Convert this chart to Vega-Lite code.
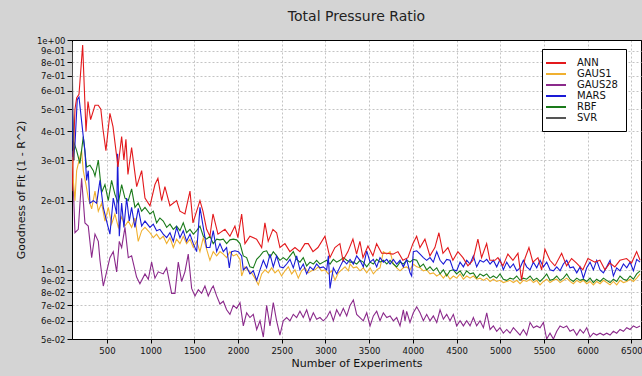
{
"$schema": "https://vega.github.io/schema/vega-lite/v6.json",
"width": 569, "height": 299,
"autosize": {"type": "none"},
"padding": {"left": 72, "top": 40, "right": 1, "bottom": 37},
"background": "#d4d4d4",
"title": {"text": "Total Pressure Ratio", "fontSize": 14, "font": "DejaVu Sans", "fontWeight": "normal", "color": "#222222", "offset": 12, "anchor": "middle"},
"config": {
 "view": {"fill": "white", "stroke": "black", "strokeWidth": 1},
 "axis": {"domainColor": "black", "tickColor": "black", "labelFont": "DejaVu Sans", "labelFontSize": 8.5, "labelColor": "#111111", "titleFont": "DejaVu Sans", "titleFontSize": 11, "titleFontWeight": "normal", "titleColor": "#111111", "gridColor": "#c4c4c4", "gridDash": [2, 2], "gridWidth": 1, "tickSize": 5, "labelFlush": false, "labelOverlap": false},
 "legend": {"fillColor": "white", "strokeColor": "black", "strokeWidth": 1, "padding": 8, "cornerRadius": 0, "symbolType": "M-2,0H2", "symbolSize": 100, "symbolStrokeWidth": 2, "labelFont": "DejaVu Sans", "labelFontSize": 10, "labelColor": "#111111", "rowPadding": 0, "labelOffset": 15}
},
"datasets": {
"ANN": [{"n":100,"v":0.22},{"n":134,"v":0.5},{"n":153,"v":0.56},{"n":180,"v":0.58},{"n":222,"v":0.95},{"n":260,"v":0.40},{"n":283,"v":0.54},{"n":313,"v":0.45},{"n":363,"v":0.52},{"n":400,"v":0.52},{"n":430,"v":0.5},{"n":454,"v":0.41},{"n":488,"v":0.33},{"n":534,"v":0.48},{"n":569,"v":0.42},{"n":626,"v":0.28},{"n":668,"v":0.38},{"n":694,"v":0.30},{"n":717,"v":0.37},{"n":740,"v":0.26},{"n":782,"v":0.34},{"n":840,"v":0.23},{"n":897,"v":0.27},{"n":935,"v":0.205},{"n":992,"v":0.19},{"n":1049,"v":0.235},{"n":1083,"v":0.25},{"n":1126,"v":0.2},{"n":1163,"v":0.23},{"n":1220,"v":0.19},{"n":1297,"v":0.2},{"n":1335,"v":0.18},{"n":1392,"v":0.175},{"n":1450,"v":0.22},{"n":1484,"v":0.16},{"n":1564,"v":0.2},{"n":1598,"v":0.18},{"n":1640,"v":0.15},{"n":1678,"v":0.14},{"n":1713,"v":0.175},{"n":1770,"v":0.143},{"n":1850,"v":0.15},{"n":1907,"v":0.14},{"n":1964,"v":0.155},{"n":1998,"v":0.138},{"n":2041,"v":0.175},{"n":2079,"v":0.13},{"n":2136,"v":0.14},{"n":2212,"v":0.136},{"n":2270,"v":0.125},{"n":2307,"v":0.16},{"n":2345,"v":0.133},{"n":2399,"v":0.15},{"n":2441,"v":0.145},{"n":2479,"v":0.125},{"n":2536,"v":0.13},{"n":2593,"v":0.12},{"n":2651,"v":0.125},{"n":2708,"v":0.12},{"n":2765,"v":0.13},{"n":2803,"v":0.13},{"n":2857,"v":0.12},{"n":2914,"v":0.125},{"n":2994,"v":0.14},{"n":3051,"v":0.113},{"n":3108,"v":0.125},{"n":3165,"v":0.13},{"n":3200,"v":0.11},{"n":3257,"v":0.12},{"n":3314,"v":0.136},{"n":3356,"v":0.117},{"n":3394,"v":0.133},{"n":3429,"v":0.113},{"n":3486,"v":0.127},{"n":3543,"v":0.115},{"n":3585,"v":0.13},{"n":3643,"v":0.118},{"n":3700,"v":0.118},{"n":3772,"v":0.117},{"n":3829,"v":0.12},{"n":3886,"v":0.11},{"n":3943,"v":0.113},{"n":4000,"v":0.13},{"n":4043,"v":0.14},{"n":4081,"v":0.125},{"n":4138,"v":0.136},{"n":4195,"v":0.115},{"n":4252,"v":0.125},{"n":4298,"v":0.145},{"n":4344,"v":0.118},{"n":4401,"v":0.125},{"n":4458,"v":0.11},{"n":4515,"v":0.12},{"n":4573,"v":0.113},{"n":4630,"v":0.104},{"n":4687,"v":0.11},{"n":4744,"v":0.136},{"n":4786,"v":0.113},{"n":4844,"v":0.13},{"n":4881,"v":0.11},{"n":4939,"v":0.11},{"n":4973,"v":0.113},{"n":5030,"v":0.104},{"n":5087,"v":0.117},{"n":5145,"v":0.11},{"n":5202,"v":0.118},{"n":5244,"v":0.09},{"n":5282,"v":0.112},{"n":5328,"v":0.125},{"n":5373,"v":0.108},{"n":5431,"v":0.113},{"n":5473,"v":0.1},{"n":5511,"v":0.123},{"n":5568,"v":0.11},{"n":5625,"v":0.104},{"n":5702,"v":0.118},{"n":5759,"v":0.104},{"n":5816,"v":0.112},{"n":5873,"v":0.107},{"n":5945,"v":0.1},{"n":6003,"v":0.112},{"n":6083,"v":0.108},{"n":6140,"v":0.11},{"n":6197,"v":0.1},{"n":6254,"v":0.107},{"n":6311,"v":0.103},{"n":6369,"v":0.11},{"n":6445,"v":0.112},{"n":6502,"v":0.107},{"n":6560,"v":0.12},{"n":6600,"v":0.11}],
"GAUS1": [{"n":100,"v":0.31},{"n":115,"v":0.245},{"n":134,"v":0.2},{"n":153,"v":0.27},{"n":182,"v":0.3},{"n":210,"v":0.33},{"n":229,"v":0.27},{"n":260,"v":0.235},{"n":286,"v":0.205},{"n":325,"v":0.184},{"n":363,"v":0.22},{"n":401,"v":0.18},{"n":439,"v":0.195},{"n":477,"v":0.163},{"n":515,"v":0.187},{"n":553,"v":0.158},{"n":591,"v":0.175},{"n":630,"v":0.153},{"n":668,"v":0.17},{"n":706,"v":0.155},{"n":744,"v":0.163},{"n":782,"v":0.153},{"n":820,"v":0.168},{"n":858,"v":0.133},{"n":897,"v":0.148},{"n":935,"v":0.153},{"n":992,"v":0.145},{"n":1030,"v":0.138},{"n":1068,"v":0.143},{"n":1106,"v":0.136},{"n":1144,"v":0.14},{"n":1183,"v":0.13},{"n":1221,"v":0.138},{"n":1259,"v":0.125},{"n":1297,"v":0.136},{"n":1335,"v":0.13},{"n":1373,"v":0.14},{"n":1411,"v":0.13},{"n":1450,"v":0.136},{"n":1488,"v":0.125},{"n":1526,"v":0.133},{"n":1564,"v":0.12},{"n":1602,"v":0.138},{"n":1640,"v":0.123},{"n":1678,"v":0.11},{"n":1716,"v":0.12},{"n":1755,"v":0.115},{"n":1793,"v":0.12},{"n":1831,"v":0.117},{"n":1869,"v":0.113},{"n":1907,"v":0.12},{"n":1945,"v":0.115},{"n":1984,"v":0.117},{"n":2022,"v":0.111},{"n":2041,"v":0.094},{"n":2079,"v":0.103},{"n":2117,"v":0.099},{"n":2155,"v":0.097},{"n":2193,"v":0.092},{"n":2232,"v":0.086},{"n":2270,"v":0.096},{"n":2308,"v":0.1},{"n":2346,"v":0.097},{"n":2384,"v":0.102},{"n":2422,"v":0.097},{"n":2460,"v":0.1},{"n":2498,"v":0.094},{"n":2537,"v":0.099},{"n":2575,"v":0.103},{"n":2613,"v":0.096},{"n":2651,"v":0.1},{"n":2689,"v":0.092},{"n":2727,"v":0.099},{"n":2766,"v":0.102},{"n":2804,"v":0.097},{"n":2842,"v":0.099},{"n":2880,"v":0.1},{"n":2918,"v":0.103},{"n":2956,"v":0.099},{"n":2995,"v":0.1},{"n":3033,"v":0.096},{"n":3071,"v":0.099},{"n":3109,"v":0.09},{"n":3147,"v":0.097},{"n":3185,"v":0.1},{"n":3224,"v":0.103},{"n":3262,"v":0.099},{"n":3281,"v":0.106},{"n":3319,"v":0.102},{"n":3357,"v":0.103},{"n":3395,"v":0.099},{"n":3433,"v":0.102},{"n":3472,"v":0.097},{"n":3510,"v":0.102},{"n":3548,"v":0.096},{"n":3586,"v":0.1},{"n":3624,"v":0.102},{"n":3662,"v":0.12},{"n":3701,"v":0.117},{"n":3739,"v":0.12},{"n":3777,"v":0.106},{"n":3815,"v":0.102},{"n":3853,"v":0.099},{"n":3891,"v":0.102},{"n":3929,"v":0.103},{"n":3967,"v":0.1},{"n":4005,"v":0.106},{"n":4044,"v":0.103},{"n":4082,"v":0.102},{"n":4120,"v":0.099},{"n":4158,"v":0.1},{"n":4196,"v":0.096},{"n":4234,"v":0.097},{"n":4273,"v":0.094},{"n":4311,"v":0.096},{"n":4349,"v":0.092},{"n":4387,"v":0.096},{"n":4425,"v":0.091},{"n":4463,"v":0.094},{"n":4501,"v":0.092},{"n":4540,"v":0.096},{"n":4578,"v":0.091},{"n":4616,"v":0.094},{"n":4654,"v":0.092},{"n":4692,"v":0.094},{"n":4730,"v":0.091},{"n":4768,"v":0.092},{"n":4807,"v":0.09},{"n":4845,"v":0.092},{"n":4883,"v":0.089},{"n":4921,"v":0.091},{"n":4959,"v":0.089},{"n":4997,"v":0.09},{"n":5035,"v":0.088},{"n":5074,"v":0.089},{"n":5112,"v":0.09},{"n":5150,"v":0.088},{"n":5188,"v":0.09},{"n":5226,"v":0.087},{"n":5264,"v":0.09},{"n":5302,"v":0.089},{"n":5341,"v":0.091},{"n":5379,"v":0.088},{"n":5417,"v":0.09},{"n":5455,"v":0.086},{"n":5493,"v":0.089},{"n":5531,"v":0.091},{"n":5569,"v":0.088},{"n":5608,"v":0.09},{"n":5646,"v":0.091},{"n":5684,"v":0.088},{"n":5722,"v":0.09},{"n":5760,"v":0.092},{"n":5798,"v":0.089},{"n":5836,"v":0.087},{"n":5875,"v":0.09},{"n":5913,"v":0.088},{"n":5951,"v":0.09},{"n":5989,"v":0.087},{"n":6027,"v":0.089},{"n":6065,"v":0.086},{"n":6103,"v":0.089},{"n":6142,"v":0.087},{"n":6180,"v":0.09},{"n":6218,"v":0.088},{"n":6256,"v":0.086},{"n":6294,"v":0.089},{"n":6332,"v":0.086},{"n":6370,"v":0.09},{"n":6409,"v":0.088},{"n":6447,"v":0.089},{"n":6485,"v":0.091},{"n":6523,"v":0.089},{"n":6561,"v":0.092},{"n":6599,"v":0.096}],
"GAUS28": [{"n":100,"v":0.33},{"n":134,"v":0.145},{"n":172,"v":0.15},{"n":210,"v":0.25},{"n":248,"v":0.16},{"n":286,"v":0.155},{"n":325,"v":0.113},{"n":363,"v":0.143},{"n":401,"v":0.133},{"n":420,"v":0.11},{"n":458,"v":0.085},{"n":496,"v":0.098},{"n":534,"v":0.113},{"n":572,"v":0.12},{"n":611,"v":0.098},{"n":641,"v":0.133},{"n":668,"v":0.125},{"n":706,"v":0.153},{"n":744,"v":0.113},{"n":782,"v":0.115},{"n":839,"v":0.093},{"n":877,"v":0.087},{"n":935,"v":0.096},{"n":973,"v":0.091},{"n":1011,"v":0.108},{"n":1049,"v":0.092},{"n":1087,"v":0.098},{"n":1144,"v":0.096},{"n":1183,"v":0.102},{"n":1240,"v":0.079},{"n":1278,"v":0.079},{"n":1316,"v":0.108},{"n":1354,"v":0.089},{"n":1392,"v":0.098},{"n":1430,"v":0.117},{"n":1469,"v":0.083},{"n":1507,"v":0.077},{"n":1545,"v":0.082},{"n":1583,"v":0.079},{"n":1621,"v":0.085},{"n":1659,"v":0.077},{"n":1697,"v":0.083},{"n":1716,"v":0.085},{"n":1755,"v":0.077},{"n":1793,"v":0.071},{"n":1831,"v":0.073},{"n":1869,"v":0.067},{"n":1907,"v":0.064},{"n":1945,"v":0.07},{"n":1984,"v":0.068},{"n":2022,"v":0.072},{"n":2060,"v":0.057},{"n":2098,"v":0.065},{"n":2136,"v":0.062},{"n":2174,"v":0.064},{"n":2213,"v":0.055},{"n":2251,"v":0.06},{"n":2289,"v":0.051},{"n":2327,"v":0.07},{"n":2365,"v":0.057},{"n":2403,"v":0.072},{"n":2441,"v":0.06},{"n":2479,"v":0.052},{"n":2517,"v":0.06},{"n":2556,"v":0.062},{"n":2594,"v":0.06},{"n":2632,"v":0.064},{"n":2670,"v":0.062},{"n":2708,"v":0.066},{"n":2746,"v":0.062},{"n":2785,"v":0.067},{"n":2823,"v":0.06},{"n":2861,"v":0.065},{"n":2899,"v":0.061},{"n":2937,"v":0.062},{"n":2975,"v":0.06},{"n":3014,"v":0.062},{"n":3052,"v":0.066},{"n":3090,"v":0.06},{"n":3128,"v":0.067},{"n":3166,"v":0.063},{"n":3204,"v":0.068},{"n":3243,"v":0.063},{"n":3281,"v":0.07},{"n":3319,"v":0.074},{"n":3357,"v":0.064},{"n":3395,"v":0.062},{"n":3433,"v":0.06},{"n":3472,"v":0.065},{"n":3510,"v":0.057},{"n":3548,"v":0.063},{"n":3586,"v":0.066},{"n":3624,"v":0.06},{"n":3662,"v":0.065},{"n":3701,"v":0.062},{"n":3739,"v":0.063},{"n":3777,"v":0.06},{"n":3815,"v":0.062},{"n":3853,"v":0.057},{"n":3891,"v":0.067},{"n":3910,"v":0.06},{"n":3929,"v":0.066},{"n":3967,"v":0.059},{"n":4005,"v":0.065},{"n":4044,"v":0.069},{"n":4082,"v":0.065},{"n":4120,"v":0.06},{"n":4158,"v":0.064},{"n":4196,"v":0.06},{"n":4234,"v":0.063},{"n":4273,"v":0.059},{"n":4311,"v":0.067},{"n":4349,"v":0.061},{"n":4387,"v":0.064},{"n":4425,"v":0.06},{"n":4463,"v":0.064},{"n":4501,"v":0.057},{"n":4540,"v":0.06},{"n":4578,"v":0.057},{"n":4616,"v":0.06},{"n":4654,"v":0.057},{"n":4692,"v":0.062},{"n":4730,"v":0.057},{"n":4768,"v":0.06},{"n":4807,"v":0.056},{"n":4845,"v":0.065},{"n":4883,"v":0.055},{"n":4921,"v":0.057},{"n":4959,"v":0.054},{"n":4997,"v":0.056},{"n":5035,"v":0.053},{"n":5074,"v":0.055},{"n":5112,"v":0.053},{"n":5150,"v":0.056},{"n":5188,"v":0.054},{"n":5226,"v":0.052},{"n":5264,"v":0.055},{"n":5302,"v":0.052},{"n":5341,"v":0.059},{"n":5379,"v":0.056},{"n":5417,"v":0.057},{"n":5455,"v":0.056},{"n":5493,"v":0.059},{"n":5531,"v":0.05},{"n":5569,"v":0.053},{"n":5608,"v":0.05},{"n":5646,"v":0.054},{"n":5684,"v":0.057},{"n":5722,"v":0.056},{"n":5760,"v":0.057},{"n":5798,"v":0.054},{"n":5836,"v":0.055},{"n":5875,"v":0.052},{"n":5913,"v":0.055},{"n":5951,"v":0.053},{"n":5989,"v":0.056},{"n":6027,"v":0.051},{"n":6065,"v":0.053},{"n":6103,"v":0.052},{"n":6142,"v":0.053},{"n":6180,"v":0.052},{"n":6218,"v":0.053},{"n":6256,"v":0.052},{"n":6294,"v":0.054},{"n":6332,"v":0.053},{"n":6370,"v":0.055},{"n":6409,"v":0.054},{"n":6447,"v":0.056},{"n":6485,"v":0.055},{"n":6523,"v":0.057},{"n":6561,"v":0.056},{"n":6599,"v":0.057}],
"MARS": [{"n":100,"v":0.6},{"n":115,"v":0.3},{"n":134,"v":0.35},{"n":160,"v":0.55},{"n":180,"v":0.565},{"n":229,"v":0.38},{"n":248,"v":0.33},{"n":267,"v":0.245},{"n":286,"v":0.27},{"n":305,"v":0.195},{"n":344,"v":0.2},{"n":382,"v":0.195},{"n":420,"v":0.245},{"n":458,"v":0.187},{"n":496,"v":0.163},{"n":534,"v":0.143},{"n":572,"v":0.205},{"n":611,"v":0.175},{"n":622,"v":0.32},{"n":641,"v":0.14},{"n":668,"v":0.195},{"n":694,"v":0.153},{"n":725,"v":0.205},{"n":755,"v":0.163},{"n":782,"v":0.187},{"n":820,"v":0.153},{"n":858,"v":0.185},{"n":897,"v":0.155},{"n":935,"v":0.163},{"n":992,"v":0.153},{"n":1030,"v":0.158},{"n":1068,"v":0.148},{"n":1106,"v":0.15},{"n":1144,"v":0.143},{"n":1183,"v":0.138},{"n":1221,"v":0.145},{"n":1259,"v":0.133},{"n":1297,"v":0.153},{"n":1335,"v":0.138},{"n":1373,"v":0.148},{"n":1411,"v":0.133},{"n":1450,"v":0.143},{"n":1488,"v":0.13},{"n":1526,"v":0.12},{"n":1564,"v":0.187},{"n":1602,"v":0.153},{"n":1640,"v":0.125},{"n":1678,"v":0.125},{"n":1716,"v":0.148},{"n":1755,"v":0.12},{"n":1793,"v":0.13},{"n":1831,"v":0.12},{"n":1869,"v":0.125},{"n":1900,"v":0.102},{"n":1926,"v":0.12},{"n":1964,"v":0.121},{"n":2003,"v":0.12},{"n":2041,"v":0.115},{"n":2060,"v":0.1},{"n":2098,"v":0.103},{"n":2136,"v":0.096},{"n":2174,"v":0.099},{"n":2213,"v":0.09},{"n":2251,"v":0.1},{"n":2289,"v":0.11},{"n":2327,"v":0.102},{"n":2365,"v":0.117},{"n":2403,"v":0.103},{"n":2441,"v":0.115},{"n":2479,"v":0.103},{"n":2517,"v":0.102},{"n":2556,"v":0.106},{"n":2594,"v":0.111},{"n":2632,"v":0.102},{"n":2670,"v":0.115},{"n":2708,"v":0.1},{"n":2746,"v":0.106},{"n":2785,"v":0.096},{"n":2823,"v":0.103},{"n":2861,"v":0.1},{"n":2899,"v":0.106},{"n":2937,"v":0.102},{"n":2975,"v":0.103},{"n":3014,"v":0.1},{"n":3033,"v":0.115},{"n":3052,"v":0.083},{"n":3090,"v":0.102},{"n":3128,"v":0.096},{"n":3166,"v":0.103},{"n":3204,"v":0.11},{"n":3243,"v":0.106},{"n":3281,"v":0.111},{"n":3319,"v":0.106},{"n":3357,"v":0.115},{"n":3395,"v":0.11},{"n":3433,"v":0.103},{"n":3472,"v":0.121},{"n":3510,"v":0.108},{"n":3548,"v":0.111},{"n":3586,"v":0.103},{"n":3624,"v":0.113},{"n":3662,"v":0.108},{"n":3701,"v":0.111},{"n":3739,"v":0.106},{"n":3777,"v":0.111},{"n":3815,"v":0.106},{"n":3853,"v":0.11},{"n":3891,"v":0.103},{"n":3929,"v":0.111},{"n":3967,"v":0.097},{"n":3986,"v":0.094},{"n":4005,"v":0.12},{"n":4044,"v":0.121},{"n":4082,"v":0.117},{"n":4120,"v":0.113},{"n":4158,"v":0.11},{"n":4196,"v":0.113},{"n":4234,"v":0.108},{"n":4273,"v":0.12},{"n":4311,"v":0.11},{"n":4349,"v":0.106},{"n":4387,"v":0.111},{"n":4425,"v":0.11},{"n":4463,"v":0.1},{"n":4501,"v":0.099},{"n":4540,"v":0.108},{"n":4578,"v":0.103},{"n":4616,"v":0.11},{"n":4654,"v":0.106},{"n":4692,"v":0.115},{"n":4730,"v":0.103},{"n":4768,"v":0.11},{"n":4807,"v":0.108},{"n":4845,"v":0.111},{"n":4883,"v":0.106},{"n":4921,"v":0.11},{"n":4959,"v":0.103},{"n":4997,"v":0.111},{"n":5035,"v":0.1},{"n":5074,"v":0.108},{"n":5112,"v":0.102},{"n":5150,"v":0.106},{"n":5188,"v":0.099},{"n":5226,"v":0.102},{"n":5264,"v":0.11},{"n":5302,"v":0.103},{"n":5341,"v":0.1},{"n":5379,"v":0.108},{"n":5417,"v":0.102},{"n":5455,"v":0.11},{"n":5493,"v":0.103},{"n":5531,"v":0.108},{"n":5569,"v":0.1},{"n":5608,"v":0.099},{"n":5646,"v":0.103},{"n":5684,"v":0.099},{"n":5722,"v":0.106},{"n":5760,"v":0.11},{"n":5798,"v":0.102},{"n":5836,"v":0.103},{"n":5875,"v":0.097},{"n":5913,"v":0.103},{"n":5951,"v":0.092},{"n":5989,"v":0.102},{"n":6027,"v":0.108},{"n":6065,"v":0.1},{"n":6103,"v":0.11},{"n":6142,"v":0.1},{"n":6180,"v":0.097},{"n":6218,"v":0.103},{"n":6256,"v":0.11},{"n":6294,"v":0.094},{"n":6332,"v":0.102},{"n":6370,"v":0.099},{"n":6409,"v":0.106},{"n":6447,"v":0.102},{"n":6485,"v":0.108},{"n":6523,"v":0.099},{"n":6561,"v":0.111},{"n":6599,"v":0.108}],
"RBF": [{"n":100,"v":0.55},{"n":115,"v":0.365},{"n":153,"v":0.33},{"n":191,"v":0.29},{"n":229,"v":0.38},{"n":267,"v":0.28},{"n":305,"v":0.285},{"n":344,"v":0.27},{"n":363,"v":0.256},{"n":401,"v":0.3},{"n":439,"v":0.217},{"n":477,"v":0.235},{"n":515,"v":0.2},{"n":553,"v":0.245},{"n":591,"v":0.213},{"n":630,"v":0.195},{"n":668,"v":0.235},{"n":706,"v":0.205},{"n":744,"v":0.2},{"n":782,"v":0.225},{"n":820,"v":0.187},{"n":858,"v":0.195},{"n":897,"v":0.18},{"n":935,"v":0.187},{"n":992,"v":0.175},{"n":1030,"v":0.18},{"n":1068,"v":0.16},{"n":1106,"v":0.168},{"n":1144,"v":0.163},{"n":1183,"v":0.153},{"n":1221,"v":0.158},{"n":1259,"v":0.15},{"n":1297,"v":0.155},{"n":1335,"v":0.148},{"n":1373,"v":0.16},{"n":1411,"v":0.145},{"n":1450,"v":0.15},{"n":1488,"v":0.143},{"n":1526,"v":0.148},{"n":1564,"v":0.155},{"n":1602,"v":0.14},{"n":1640,"v":0.136},{"n":1678,"v":0.14},{"n":1716,"v":0.13},{"n":1755,"v":0.136},{"n":1793,"v":0.135},{"n":1831,"v":0.136},{"n":1869,"v":0.13},{"n":1907,"v":0.135},{"n":1945,"v":0.136},{"n":1984,"v":0.135},{"n":2022,"v":0.13},{"n":2060,"v":0.115},{"n":2098,"v":0.113},{"n":2136,"v":0.103},{"n":2174,"v":0.102},{"n":2213,"v":0.111},{"n":2251,"v":0.115},{"n":2289,"v":0.12},{"n":2327,"v":0.121},{"n":2365,"v":0.113},{"n":2403,"v":0.12},{"n":2441,"v":0.115},{"n":2479,"v":0.11},{"n":2517,"v":0.113},{"n":2556,"v":0.11},{"n":2594,"v":0.115},{"n":2632,"v":0.12},{"n":2670,"v":0.111},{"n":2708,"v":0.108},{"n":2746,"v":0.113},{"n":2785,"v":0.104},{"n":2823,"v":0.108},{"n":2861,"v":0.106},{"n":2899,"v":0.11},{"n":2937,"v":0.106},{"n":2975,"v":0.108},{"n":3014,"v":0.11},{"n":3052,"v":0.106},{"n":3090,"v":0.111},{"n":3128,"v":0.108},{"n":3166,"v":0.11},{"n":3204,"v":0.113},{"n":3243,"v":0.11},{"n":3281,"v":0.108},{"n":3319,"v":0.108},{"n":3357,"v":0.106},{"n":3395,"v":0.11},{"n":3433,"v":0.108},{"n":3472,"v":0.103},{"n":3510,"v":0.108},{"n":3548,"v":0.106},{"n":3586,"v":0.111},{"n":3624,"v":0.108},{"n":3662,"v":0.11},{"n":3701,"v":0.106},{"n":3739,"v":0.11},{"n":3777,"v":0.106},{"n":3815,"v":0.103},{"n":3853,"v":0.108},{"n":3891,"v":0.106},{"n":3929,"v":0.11},{"n":3967,"v":0.108},{"n":4005,"v":0.111},{"n":4044,"v":0.11},{"n":4082,"v":0.103},{"n":4120,"v":0.106},{"n":4158,"v":0.1},{"n":4196,"v":0.103},{"n":4234,"v":0.099},{"n":4273,"v":0.102},{"n":4311,"v":0.096},{"n":4349,"v":0.1},{"n":4387,"v":0.094},{"n":4425,"v":0.099},{"n":4463,"v":0.1},{"n":4501,"v":0.096},{"n":4540,"v":0.099},{"n":4578,"v":0.094},{"n":4616,"v":0.099},{"n":4654,"v":0.096},{"n":4692,"v":0.097},{"n":4730,"v":0.092},{"n":4768,"v":0.096},{"n":4807,"v":0.094},{"n":4845,"v":0.096},{"n":4883,"v":0.092},{"n":4921,"v":0.094},{"n":4959,"v":0.092},{"n":4997,"v":0.096},{"n":5035,"v":0.091},{"n":5074,"v":0.09},{"n":5112,"v":0.092},{"n":5150,"v":0.091},{"n":5188,"v":0.094},{"n":5226,"v":0.09},{"n":5264,"v":0.092},{"n":5302,"v":0.091},{"n":5341,"v":0.094},{"n":5379,"v":0.09},{"n":5417,"v":0.092},{"n":5455,"v":0.089},{"n":5493,"v":0.092},{"n":5531,"v":0.096},{"n":5569,"v":0.09},{"n":5608,"v":0.091},{"n":5646,"v":0.094},{"n":5684,"v":0.09},{"n":5722,"v":0.092},{"n":5760,"v":0.096},{"n":5798,"v":0.091},{"n":5836,"v":0.089},{"n":5875,"v":0.092},{"n":5913,"v":0.09},{"n":5951,"v":0.091},{"n":5989,"v":0.089},{"n":6027,"v":0.092},{"n":6065,"v":0.088},{"n":6103,"v":0.091},{"n":6142,"v":0.089},{"n":6180,"v":0.092},{"n":6218,"v":0.09},{"n":6256,"v":0.088},{"n":6294,"v":0.091},{"n":6332,"v":0.089},{"n":6370,"v":0.094},{"n":6409,"v":0.091},{"n":6447,"v":0.09},{"n":6485,"v":0.094},{"n":6523,"v":0.091},{"n":6561,"v":0.096},{"n":6599,"v":0.099}],
"SVR": [{"n":100,"v":0.98},{"n":110,"v":0.5},{"n":125,"v":0.3}]
},
"encoding": {
 "x": {"field": "n", "type": "quantitative", "scale": {"domain": [100, 6610], "nice": false, "zero": false},
  "axis": {"values": [500,1000,1500,2000,2500,3000,3500,4000,4500,5000,5500,6000,6500], "format": "d", "title": "Number of Experiments", "tickSize": 4, "labelPadding": 3, "titlePadding": 3}},
 "y": {"field": "v", "type": "quantitative", "scale": {"type": "log", "domain": [0.05, 1], "nice": false},
  "axis": {"values": [0.05,0.06,0.07,0.08,0.09,0.1,0.2,0.3,0.4,0.5,0.6,0.7,0.8,0.9,1], "labelExpr": "format(datum.value / pow(10, floor(log(datum.value)/LN10 + 1e-9)), '.0f') + 'e' + (floor(log(datum.value)/LN10 + 1e-9) < 0 ? '-' : '+') + '0' + abs(floor(log(datum.value)/LN10 + 1e-9))", "title": "Goodness of Fit (1 - R^2)", "titlePadding": 10, "labelPadding": 2,
   "gridColor": {"condition": {"test": "datum.value >= 0.999", "value": "black"}, "value": "#c4c4c4"},
   "gridDash": {"condition": {"test": "datum.value >= 0.999", "value": []}, "value": [2, 2]}}}
},
"layer": [
 {"data": {"name": "GAUS28"}, "mark": {"type": "line", "strokeWidth": 1.1, "clip": true},
  "encoding": {"color": {"datum": "GAUS28", "type": "nominal",
   "scale": {"domain": ["ANN","GAUS1","GAUS28","MARS","RBF","SVR"], "range": ["#e3191c","#f0b030","#8b2a8b","#1a1ad6","#1a7a1a","#555555"]},
   "legend": {"title": null, "orient": "none", "legendX": 470, "legendY": 9}}}},
 {"data": {"name": "GAUS1"}, "mark": {"type": "line", "strokeWidth": 1.1, "clip": true}, "encoding": {"color": {"datum": "GAUS1", "type": "nominal"}}},
 {"data": {"name": "RBF"}, "mark": {"type": "line", "strokeWidth": 1.1, "clip": true}, "encoding": {"color": {"datum": "RBF", "type": "nominal"}}},
 {"data": {"name": "MARS"}, "mark": {"type": "line", "strokeWidth": 1.1, "clip": true}, "encoding": {"color": {"datum": "MARS", "type": "nominal"}}},
 {"data": {"name": "ANN"}, "mark": {"type": "line", "strokeWidth": 1.1, "clip": true}, "encoding": {"color": {"datum": "ANN", "type": "nominal"}}},
 {"data": {"name": "SVR"}, "mark": {"type": "line", "strokeWidth": 1.1, "clip": true}, "encoding": {"color": {"datum": "SVR", "type": "nominal"}}}
]
}
